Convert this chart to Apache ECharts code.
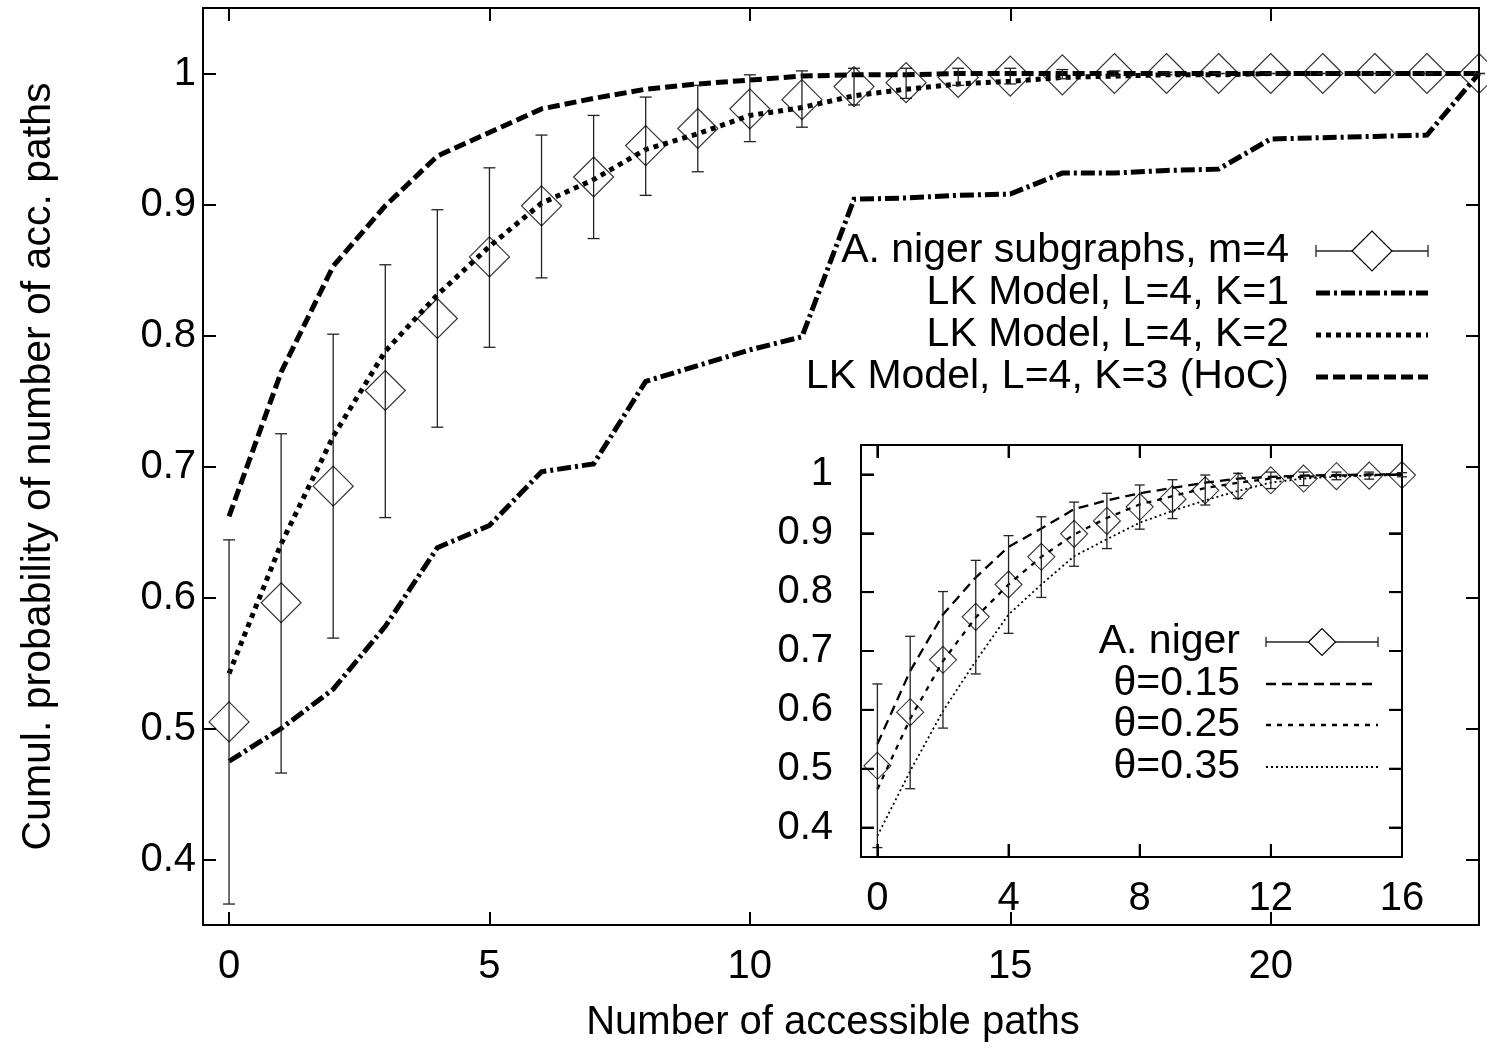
<!DOCTYPE html>
<html><head><meta charset="utf-8">
<script src="https://cdn.jsdelivr.net/npm/echarts@6/dist/echarts.min.js"></script>
<style>html,body{margin:0;padding:0;background:#fff}#c{width:1487px;height:1050px}</style>
</head><body><div id="c"></div>
<script>
// ---- data ----
const xMain = [0,1,2,3,4,5,6,7,8,9,10,11,12,13,14,15,16,17,18,19,20,21,22,23,24];
const nigerMean = [0.505,0.596,0.685,0.758,0.813,0.860,0.899,0.921,0.945,0.958,0.973,0.980,0.990,0.993,0.997,0.998,0.999,1.000,1.000,1.000,1.000,1.000,1.000,1.000,1.000];
const nigerLow  = [0.366,0.466,0.569,0.661,0.730,0.791,0.844,0.874,0.907,0.925,0.948,0.959,0.976,0.981,0.991,0.992,0.996,0.998,0.999,1.000,1.000,1.000,1.000,1.000,1.000];
const nigerHigh = [0.644,0.725,0.801,0.854,0.896,0.928,0.953,0.968,0.982,0.991,0.999,1.002,1.004,1.004,1.004,1.004,1.003,1.002,1.001,1.000,1.000,1.000,1.000,1.000,1.000];
const lkK1 = [0.475,0.500,0.530,0.578,0.638,0.655,0.696,0.702,0.765,0.777,0.789,0.799,0.904,0.905,0.907,0.908,0.924,0.924,0.926,0.927,0.950,0.951,0.952,0.953,1.000];
const lkK2 = [0.542,0.641,0.723,0.788,0.831,0.868,0.901,0.919,0.942,0.954,0.968,0.974,0.983,0.988,0.992,0.994,0.997,0.998,0.999,0.999,1.000,1.000,1.000,1.000,1.000];
const lkK3 = [0.662,0.772,0.853,0.899,0.937,0.955,0.973,0.981,0.988,0.992,0.995,0.998,0.999,0.999,1.000,1.000,1.000,1.000,1.000,1.000,1.000,1.000,1.000,1.000,1.000];

const xInset = [0,1,2,3,4,5,6,7,8,9,10,11,12,13,14,15,16];
const theta15 = [0.542,0.666,0.762,0.825,0.877,0.908,0.941,0.956,0.968,0.977,0.986,0.993,0.996,0.998,0.999,1.000,1.000];
const theta25 = [0.465,0.585,0.683,0.757,0.813,0.860,0.898,0.926,0.949,0.963,0.977,0.986,0.993,0.996,0.998,0.999,1.000];
const theta35 = [0.386,0.496,0.598,0.683,0.762,0.813,0.861,0.890,0.918,0.938,0.956,0.972,0.986,0.993,0.996,0.998,0.999];

const mainXTicks = [0,5,10,15,20];
const mainYTicks = [0.4,0.5,0.6,0.7,0.8,0.9,1.0];
const insetXTicks = [0,4,8,12,16];
const insetYTicks = [0.4,0.5,0.6,0.7,0.8,0.9,1.0];

const mainLegend = ['A. niger subgraphs, m=4','LK Model, L=4, K=1','LK Model, L=4, K=2','LK Model, L=4, K=3 (HoC)'];
const insetLegend = ['A. niger','θ=0.15','θ=0.25','θ=0.35'];
const xTitle = 'Number of accessible paths';
const yTitle = 'Cumul. probability of number of acc. paths';

// ---- styles ----
const FONT = "'Liberation Sans', Arial, sans-serif";
const FS = 40, FSL = 41;
const K1dash = [14,4,3,4], K2dash = [5,5], K3dash = [12,5];
const T15dash = [10,6], T25dash = [5,6], T35dash = [2,3];
const TICK = 13;

const chart = echarts.init(document.getElementById('c'), null, {renderer:'canvas'});
const yFmt = v => String(Math.round(v*10)/10);

function ax(g, pos, min, max, ticks, lab, margin, fmt){
  return {type:'value', gridIndex:g, position:pos, min:min, max:max,
    axisLine:{show:true, onZero:false, lineStyle:{color:'#000', width:2}},
    axisTick:{show:true, inside:true, length:TICK, customValues:ticks, lineStyle:{color:'#000', width:2}},
    axisLabel:{show:lab, customValues:ticks, margin:margin, formatter:fmt, color:'#000', fontSize:FS, fontFamily:FONT},
    splitLine:{show:false}};
}
function errRender(cap){
  return function(params, api){
    const x = api.value(0), lo = api.value(1), hi = api.value(2);
    const a = api.coord([x, lo]), b = api.coord([x, hi]);
    const st = {stroke:'#222', lineWidth:1.3};
    return {type:'group', children:[
      {type:'line', shape:{x1:a[0], y1:a[1], x2:b[0], y2:b[1]}, style:st},
      {type:'line', shape:{x1:a[0]-cap, y1:a[1], x2:a[0]+cap, y2:a[1]}, style:st},
      {type:'line', shape:{x1:b[0]-cap, y1:b[1], x2:b[0]+cap, y2:b[1]}, style:st}
    ]};
  };
}
// frame tick marks for the inset, positioned through the inset axes
function tickRender(dir){
  return function(params, api){
    const cs = params.coordSys;
    const p = api.coord([api.value(0), api.value(1)]);
    const st = {stroke:'#000', lineWidth:2};
    if (dir === 'x') {
      const yb = cs.y + cs.height, yt = cs.y;
      return {type:'group', children:[
        {type:'line', shape:{x1:p[0], y1:yb, x2:p[0], y2:yb-TICK}, style:st},
        {type:'line', shape:{x1:p[0], y1:yt, x2:p[0], y2:yt+TICK}, style:st}]};
    }
    const xl = cs.x, xr = cs.x + cs.width;
    return {type:'group', children:[
      {type:'line', shape:{x1:xl, y1:p[1], x2:xl+TICK, y2:p[1]}, style:st},
      {type:'line', shape:{x1:xr, y1:p[1], x2:xr-TICK, y2:p[1]}, style:st}]};
  };
}
function lineSeries(xa, ya, xs, ys, w, dash, z){
  return {type:'line', xAxisIndex:xa, yAxisIndex:ya, data:xs.map((x,i)=>[x, ys[i]]),
    showSymbol:false, symbol:'none', smooth:false,
    lineStyle:{color:'#000', width:w, type:dash, cap:'butt', join:'miter'}, z:z};
}
const mainErr = xMain.map((x,i)=>[x, nigerLow[i], nigerHigh[i]]);
const insetErr = xInset.map((x,i)=>[x, nigerLow[i], nigerHigh[i]]);

// legend graphics
const G = [];
function legendText(x, y, t){
  G.push({type:'text', x:x, y:y, style:{text:t, fill:'#000', font:FSL+'px '+FONT, textAlign:'right', textVerticalAlign:'middle'}, z:10});
}
function legendLine(x1, x2, y, w, dash){
  G.push({type:'line', shape:{x1:x1, y1:y, x2:x2, y2:y}, style:{stroke:'#000', lineWidth:w, lineDash:dash, lineCap:'butt'}, z:10});
}
function legendErr(x1, x2, y, size, cap){
  const st = {stroke:'#222', lineWidth:1.3};
  G.push({type:'line', shape:{x1:x1, y1:y, x2:x2, y2:y}, style:st, z:10});
  G.push({type:'line', shape:{x1:x1, y1:y-cap, x2:x1, y2:y+cap}, style:st, z:10});
  G.push({type:'line', shape:{x1:x2, y1:y-cap, x2:x2, y2:y+cap}, style:st, z:10});
  const cx = (x1+x2)/2, h = size/2;
  G.push({type:'polygon', shape:{points:[[cx-h,y],[cx,y-h],[cx+h,y],[cx,y+h]]}, style:{fill:'#fff', stroke:'#000', lineWidth:1.2}, z:11});
}
const mainLY = [251, 293, 335, 377];
legendText(1289, mainLY[0], mainLegend[0]); legendErr(1316, 1428, mainLY[0], 40, 6);
legendText(1289, mainLY[1], mainLegend[1]); legendLine(1316, 1428, mainLY[1], 5, K1dash);
legendText(1289, mainLY[2], mainLegend[2]); legendLine(1316, 1428, mainLY[2], 5, K2dash);
legendText(1289, mainLY[3], mainLegend[3]); legendLine(1316, 1428, mainLY[3], 5, K3dash);
const insLY = [642, 684, 725, 767];
legendText(1240, insLY[0], insetLegend[0]); legendErr(1266, 1378, insLY[0], 27, 5);
legendText(1240, insLY[1], insetLegend[1]); legendLine(1266, 1378, insLY[1], 2.3, T15dash);
legendText(1240, insLY[2], insetLegend[2]); legendLine(1266, 1378, insLY[2], 2.3, T25dash);
legendText(1240, insLY[3], insetLegend[3]); legendLine(1266, 1378, insLY[3], 1.8, T35dash);

const option = {
  animation:false,
  backgroundColor:'#fff',
  grid:[
    {left:203, top:8, width:1276, height:917, outerBoundsMode:'none'},
    {left:861, top:445, width:541, height:412, outerBoundsMode:'none'}
  ],
  xAxis:[
    Object.assign(ax(0,'bottom',-0.5,24,mainXTicks,true,22), {name:xTitle, nameLocation:'middle', nameGap:78, nameTextStyle:{color:'#000', fontSize:FS, fontFamily:FONT, padding:[0,16,0,0]}}),
    ax(0,'top',-0.5,24,mainXTicks,false,22),
    ax(1,'bottom',-0.5,16,insetXTicks,true,22),
    ax(1,'top',-0.5,16,insetXTicks,false,22)
  ],
  yAxis:[
    Object.assign(ax(0,'left',0.35,1.05,mainYTicks,true,7,yFmt), {name:yTitle, nameLocation:'middle', nameGap:144, nameRotate:90, nameTextStyle:{color:'#000', fontSize:FSL, fontFamily:FONT}}),
    ax(0,'right',0.35,1.05,mainYTicks,false,8,yFmt),
    ax(1,'left',0.35,1.05,insetYTicks,true,28,yFmt),
    ax(1,'right',0.35,1.05,insetYTicks,false,8,yFmt)
  ],
  series:[
    lineSeries(0,0,xMain,lkK1,5,K1dash,3),
    lineSeries(0,0,xMain,lkK2,5,K2dash,3),
    lineSeries(0,0,xMain,lkK3,5,K3dash,3),
    {type:'custom', xAxisIndex:0, yAxisIndex:0, data:mainErr, renderItem:errRender(6), encode:{x:0, y:[1,2]}, z:4, silent:true},
    {type:'scatter', xAxisIndex:0, yAxisIndex:0, data:xMain.map((x,i)=>[x, nigerMean[i]]), symbol:'diamond', symbolSize:[40,40],
      itemStyle:{color:'rgba(255,255,255,0)', borderColor:'#000', borderWidth:1.2}, z:5, silent:true},
    lineSeries(2,2,xInset,theta15,2.3,T15dash,6),
    lineSeries(2,2,xInset,theta25,2.3,T25dash,6),
    lineSeries(2,2,xInset,theta35,1.8,T35dash,6),
    {type:'custom', xAxisIndex:2, yAxisIndex:2, data:insetErr, renderItem:errRender(5), encode:{x:0, y:[1,2]}, z:7, silent:true},
    {type:'scatter', xAxisIndex:2, yAxisIndex:2, data:xInset.map((x,i)=>[x, nigerMean[i]]), symbol:'diamond', symbolSize:[27,27],
      itemStyle:{color:'rgba(255,255,255,0)', borderColor:'#000', borderWidth:1.1}, z:8, silent:true},
    {type:'custom', xAxisIndex:2, yAxisIndex:2, data:insetXTicks.map(v=>[v, 0.35]), renderItem:tickRender('x'), encode:{x:0, y:1}, z:9, silent:true},
    {type:'custom', xAxisIndex:2, yAxisIndex:2, data:insetYTicks.map(v=>[-0.5, v]), renderItem:tickRender('y'), encode:{x:0, y:1}, z:9, silent:true}
  ],
  graphic:G
};
chart.setOption(option);
</script></body></html>
